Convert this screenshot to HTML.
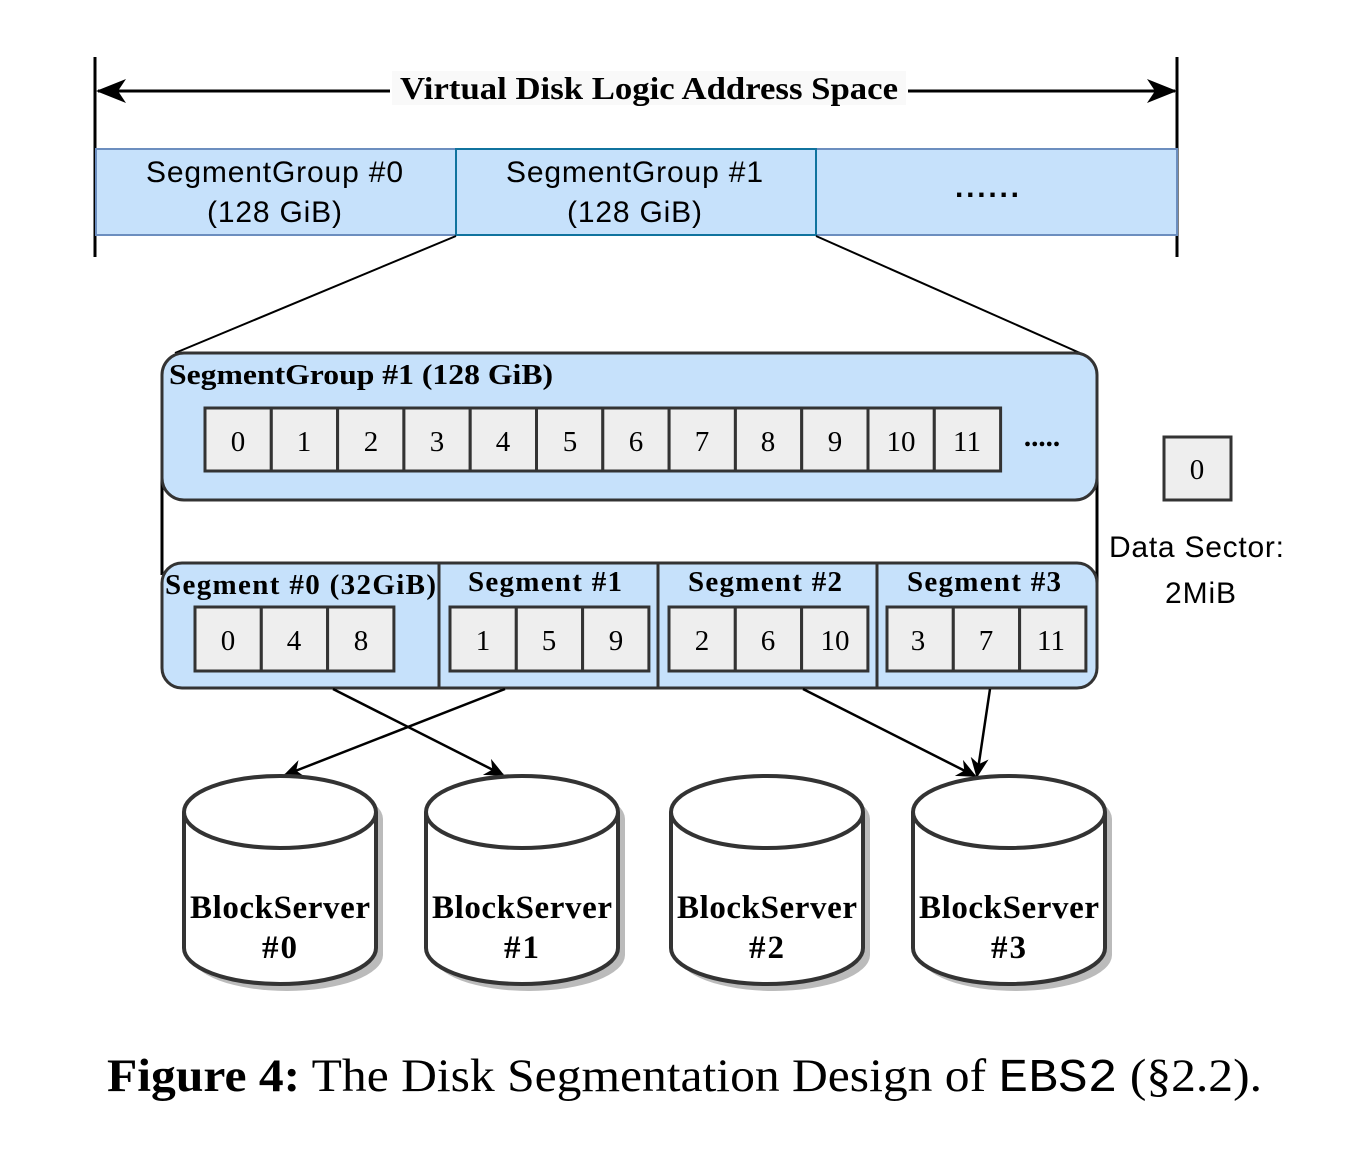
<!DOCTYPE html>
<html><head><meta charset="utf-8"><style>html,body{margin:0;padding:0;background:#fff}svg{display:block}</style></head>
<body>
<svg width="1348" height="1164" viewBox="0 0 1348 1164" xmlns="http://www.w3.org/2000/svg">
<defs>
<marker id="ah" viewBox="0 0 20 20" refX="18" refY="10" markerWidth="20" markerHeight="20" markerUnits="userSpaceOnUse" orient="auto">
<path d="M0,1 L20,10 L0,19 L6,10 Z" fill="#000"/></marker>
<marker id="ab" viewBox="0 0 30 30" refX="28" refY="15" markerWidth="30" markerHeight="30" markerUnits="userSpaceOnUse" orient="auto">
<path d="M0,3 L30,15 L0,27 L8,15 Z" fill="#000"/></marker>
</defs>
<line x1="95" y1="57" x2="95" y2="257" stroke="#000" stroke-width="3"/>
<line x1="1177" y1="57" x2="1177" y2="257" stroke="#000" stroke-width="3"/>
<line x1="390" y1="91" x2="98" y2="91" stroke="#000" stroke-width="3" marker-end="url(#ab)"/>
<line x1="908" y1="91" x2="1175" y2="91" stroke="#000" stroke-width="3" marker-end="url(#ab)"/>
<rect x="392" y="71" width="514" height="34" fill="#f9f9f9"/>
<text x="400" y="99" font-family="Liberation Serif" font-weight="bold" font-size="32" textLength="498" lengthAdjust="spacingAndGlyphs">Virtual Disk Logic Address Space</text>
<rect x="96" y="149" width="1081" height="86" fill="#c6e1fb" stroke="#6c8ebf" stroke-width="2"/>
<line x1="816" y1="149" x2="816" y2="235" stroke="#6c8ebf" stroke-width="2"/>
<rect x="456" y="149" width="360" height="86" fill="#c6e1fb" stroke="#10739e" stroke-width="2"/>
<g font-family="Liberation Sans" font-size="30" lengthAdjust="spacingAndGlyphs">
<text x="146" y="182" textLength="257">SegmentGroup #0</text><text x="207" y="222" textLength="135">(128 GiB)</text>
<text x="506" y="182" textLength="257">SegmentGroup #1</text><text x="567" y="222" textLength="135">(128 GiB)</text>
<text x="955" y="197" font-weight="bold" textLength="64">......</text>
</g>
<line x1="456" y1="236" x2="175" y2="353" stroke="#000" stroke-width="2"/>
<line x1="816" y1="236" x2="1080" y2="353" stroke="#000" stroke-width="2"/>
<line x1="162" y1="460" x2="162" y2="575" stroke="#000" stroke-width="3"/>
<line x1="1097" y1="462" x2="1097" y2="642" stroke="#000" stroke-width="3"/>
<rect x="162" y="353" width="935" height="147" rx="22" fill="#c6e1fb" stroke="#333" stroke-width="3"/>
<text x="169" y="384" font-family="Liberation Serif" font-weight="bold" font-size="29" textLength="384" lengthAdjust="spacingAndGlyphs">SegmentGroup #1 (128 GiB)</text>
<g stroke="#333" stroke-width="3" fill="#eee">
<rect x="205" y="408" width="66.3" height="63"/><rect x="271.3" y="408" width="66.3" height="63"/>
<rect x="337.6" y="408" width="66.3" height="63"/><rect x="403.9" y="408" width="66.3" height="63"/>
<rect x="470.2" y="408" width="66.3" height="63"/><rect x="536.5" y="408" width="66.3" height="63"/>
<rect x="602.8" y="408" width="66.3" height="63"/><rect x="669.1" y="408" width="66.3" height="63"/>
<rect x="735.4" y="408" width="66.3" height="63"/><rect x="801.7" y="408" width="66.3" height="63"/>
<rect x="868" y="408" width="66.3" height="63"/><rect x="934.3" y="408" width="66.3" height="63"/>
</g>
<g font-family="Liberation Serif" font-size="29" text-anchor="middle">
<text x="238" y="451">0</text><text x="304" y="451">1</text><text x="371" y="451">2</text><text x="437" y="451">3</text>
<text x="503" y="451">4</text><text x="570" y="451">5</text><text x="636" y="451">6</text><text x="702" y="451">7</text>
<text x="768" y="451">8</text><text x="835" y="451">9</text><text x="901" y="451">10</text><text x="967" y="451">11</text>
<text x="1042" y="446" font-weight="bold">.....</text>
</g>
<rect x="162" y="563" width="935" height="125" rx="20" fill="#c6e1fb" stroke="#333" stroke-width="3"/>
<g stroke="#333" stroke-width="3"><line x1="439" y1="563" x2="439" y2="688"/><line x1="658" y1="563" x2="658" y2="688"/><line x1="877" y1="563" x2="877" y2="688"/></g>
<g font-family="Liberation Serif" font-weight="bold" font-size="29" lengthAdjust="spacingAndGlyphs">
<text x="165" y="594" textLength="271">Segment #0 (32GiB)</text>
<text x="468" y="591" textLength="154">Segment #1</text>
<text x="688" y="591" textLength="154">Segment #2</text>
<text x="907" y="591" textLength="154">Segment #3</text>
</g>
<g stroke="#333" stroke-width="3" fill="#eee">
<rect x="195" y="607" width="66.3" height="64"/><rect x="261.3" y="607" width="66.3" height="64"/><rect x="327.6" y="607" width="66.3" height="64"/>
<rect x="450" y="607" width="66.3" height="64"/><rect x="516.3" y="607" width="66.3" height="64"/><rect x="582.6" y="607" width="66.3" height="64"/>
<rect x="669" y="607" width="66.3" height="64"/><rect x="735.3" y="607" width="66.3" height="64"/><rect x="801.6" y="607" width="66.3" height="64"/>
<rect x="887" y="607" width="66.3" height="64"/><rect x="953.3" y="607" width="66.3" height="64"/><rect x="1019.6" y="607" width="66.3" height="64"/>
</g>
<g font-family="Liberation Serif" font-size="29" text-anchor="middle">
<text x="228" y="650">0</text><text x="294" y="650">4</text><text x="361" y="650">8</text>
<text x="483" y="650">1</text><text x="549" y="650">5</text><text x="616" y="650">9</text>
<text x="702" y="650">2</text><text x="768" y="650">6</text><text x="835" y="650">10</text>
<text x="918" y="650">3</text><text x="986" y="650">7</text><text x="1051" y="650">11</text>
</g>
<rect x="1164" y="437" width="67" height="63" fill="#eee" stroke="#333" stroke-width="3"/>
<text x="1197" y="479" font-family="Liberation Serif" font-size="29" text-anchor="middle">0</text>
<g font-family="Liberation Sans" font-size="30" lengthAdjust="spacingAndGlyphs">
<text x="1109" y="557" textLength="175">Data Sector:</text><text x="1165" y="603" textLength="71">2MiB</text>
</g>
<g stroke="#000" stroke-width="2.5">
<line x1="333" y1="689" x2="503" y2="775" marker-end="url(#ah)"/>
<line x1="505" y1="689" x2="285" y2="775" marker-end="url(#ah)"/>
<line x1="803" y1="689" x2="975" y2="776" marker-end="url(#ah)"/>
<line x1="990" y1="689" x2="977" y2="776" marker-end="url(#ah)"/>
</g>
<g>
<g transform="translate(280,0)">
<path d="M-96,812 A96,36 0 0 1 96,812 L96,948 A96,36 0 0 1 -96,948 Z" transform="translate(7,7)" fill="#bbb"/>
<path d="M-96,812 A96,36 0 0 1 96,812 L96,948 A96,36 0 0 1 -96,948 Z" fill="#fff" stroke="#333" stroke-width="4"/>
<path d="M-96,812 A96,36 0 0 0 96,812" fill="none" stroke="#333" stroke-width="4"/>
</g>
<g transform="translate(522,0)">
<path d="M-96,812 A96,36 0 0 1 96,812 L96,948 A96,36 0 0 1 -96,948 Z" transform="translate(7,7)" fill="#bbb"/>
<path d="M-96,812 A96,36 0 0 1 96,812 L96,948 A96,36 0 0 1 -96,948 Z" fill="#fff" stroke="#333" stroke-width="4"/>
<path d="M-96,812 A96,36 0 0 0 96,812" fill="none" stroke="#333" stroke-width="4"/>
</g>
<g transform="translate(767,0)">
<path d="M-96,812 A96,36 0 0 1 96,812 L96,948 A96,36 0 0 1 -96,948 Z" transform="translate(7,7)" fill="#bbb"/>
<path d="M-96,812 A96,36 0 0 1 96,812 L96,948 A96,36 0 0 1 -96,948 Z" fill="#fff" stroke="#333" stroke-width="4"/>
<path d="M-96,812 A96,36 0 0 0 96,812" fill="none" stroke="#333" stroke-width="4"/>
</g>
<g transform="translate(1009,0)">
<path d="M-96,812 A96,36 0 0 1 96,812 L96,948 A96,36 0 0 1 -96,948 Z" transform="translate(7,7)" fill="#bbb"/>
<path d="M-96,812 A96,36 0 0 1 96,812 L96,948 A96,36 0 0 1 -96,948 Z" fill="#fff" stroke="#333" stroke-width="4"/>
<path d="M-96,812 A96,36 0 0 0 96,812" fill="none" stroke="#333" stroke-width="4"/>
</g>
</g>
<g font-family="Liberation Serif" font-weight="bold" font-size="33" lengthAdjust="spacingAndGlyphs">
<text x="190" y="918" textLength="180">BlockServer</text><text x="262" y="958" textLength="35">#0</text>
<text x="432" y="918" textLength="180">BlockServer</text><text x="504" y="958" textLength="35">#1</text>
<text x="677" y="918" textLength="180">BlockServer</text><text x="749" y="958" textLength="35">#2</text>
<text x="919" y="918" textLength="180">BlockServer</text><text x="991" y="958" textLength="35">#3</text>
</g>
<text x="107" y="1091" font-family="Liberation Serif" font-size="47" textLength="1155" lengthAdjust="spacingAndGlyphs"><tspan font-weight="bold">Figure 4:</tspan> The Disk Segmentation Design of <tspan font-family="Liberation Mono, monospace">EBS2</tspan> (§2.2).</text>
</svg>
</body></html>
